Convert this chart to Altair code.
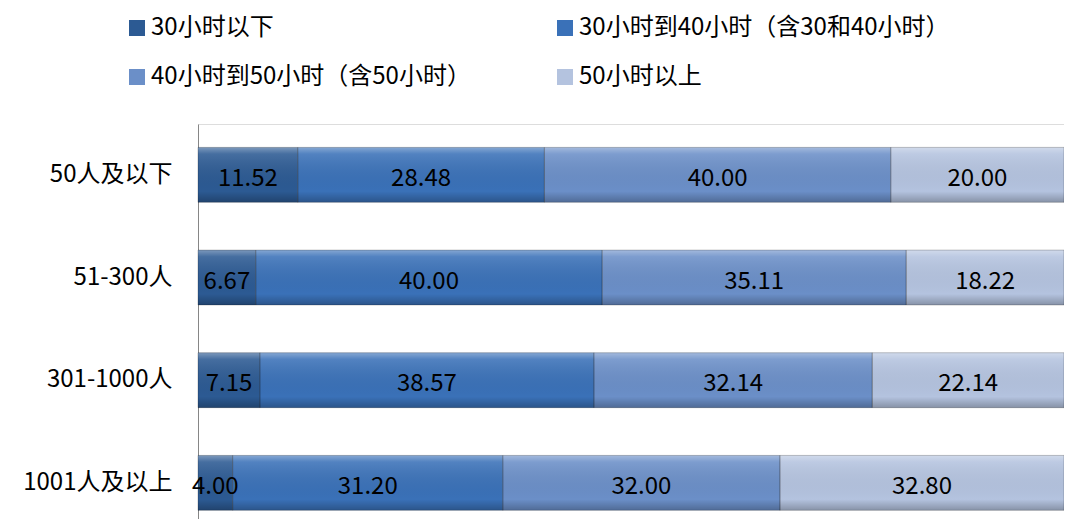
import altair as alt
import pandas as pd

groups = ["50人及以下", "51-300人", "301-1000人", "1001人及以上"]
series = ["30小时以下", "30小时到40小时（含30和40小时）", "40小时到50小时（含50小时）", "50小时以上"]
v_under30 = [11.52, 6.67, 7.15, 4.00]
v_30_40 = [28.48, 40.00, 38.57, 31.20]
v_40_50 = [40.00, 35.11, 32.14, 32.00]
v_over50 = [20.00, 18.22, 22.14, 32.80]
colors = ["#2C5A93", "#3A71B8", "#6B8FC8", "#B4C3DF"]

rows = []
for si, vals in enumerate([v_under30, v_30_40, v_40_50, v_over50]):
    for gi, g in enumerate(groups):
        rows.append({"group": g, "series": series[si], "order": si, "value": vals[gi]})
df = pd.DataFrame(rows)

FONT = "Noto Sans CJK SC"

base = alt.Chart(df).transform_stack(
    stack="value", groupby=["group"], as_=["x0", "x1"], sort=[alt.SortField("order")]
).transform_calculate(mid="(datum.x0 + datum.x1) / 2")

yenc = alt.Y(
    "group:N", sort=groups, title=None,
    scale=alt.Scale(paddingInner=0.465, paddingOuter=0.156, align=0.73),
    axis=alt.Axis(ticks=False, labelPadding=26, labelFontSize=24, labelFont=FONT,
                  labelColor="#000000", domainColor="#868686", domainWidth=1,
                  minExtent=190, maxExtent=190, labelLimit=300),
)
xscale = alt.Scale(domain=[0, 100], nice=False)

bars = base.mark_bar().encode(
    x=alt.X("x0:Q", scale=xscale, axis=None),
    x2="x1:Q",
    y=yenc,
    color=alt.Color(
        "series:N", sort=series,
        scale=alt.Scale(domain=series, range=colors),
        legend=alt.Legend(
            title=None, orient="none", legendX=-73, legendY=-108, columns=2,
            direction="horizontal",
            columnPadding=82, rowPadding=25, symbolType="square", symbolSize=256,
            symbolStrokeWidth=0, labelFontSize=24, labelFont=FONT, labelColor="#000000",
            symbolOffset=0, labelOffset=2, padding=0, labelLimit=500,
        ),
    ),
    order=alt.Order("order:Q"),
)

shade = base.mark_bar(
    fill=alt.Gradient(
        gradient="linear", x1=0, y1=0, x2=0, y2=1,
        stops=[
            alt.GradientStop(offset=0, color="rgba(255,255,255,0.38)"),
            alt.GradientStop(offset=0.12, color="rgba(255,255,255,0.12)"),
            alt.GradientStop(offset=0.8, color="rgba(0,0,0,0)"),
            alt.GradientStop(offset=1, color="rgba(0,0,0,0.25)"),
        ],
    ),
    stroke="rgba(0,0,0,0.22)", strokeWidth=1,
).encode(
    x=alt.X("x0:Q", scale=xscale, axis=None),
    x2="x1:Q",
    y=alt.Y("group:N", sort=groups),
)

labels = base.mark_text(fontSize=24, font=FONT, color="#000000", dy=4).encode(
    x=alt.X("mid:Q", scale=xscale, axis=None),
    y=alt.Y("group:N", sort=groups),
    text=alt.Text("value:Q", format=".2f"),
)

chart = alt.layer(bars, shade, labels).properties(
    width=866, height=395,
    autosize=alt.AutoSizeParams(type="none"),
    padding={"left": 190, "top": 116, "right": 0, "bottom": 0},
).configure_view(stroke=None).configure(background="white")

chart.save("out.html", embed_options={"renderer": "svg", "actions": False})
